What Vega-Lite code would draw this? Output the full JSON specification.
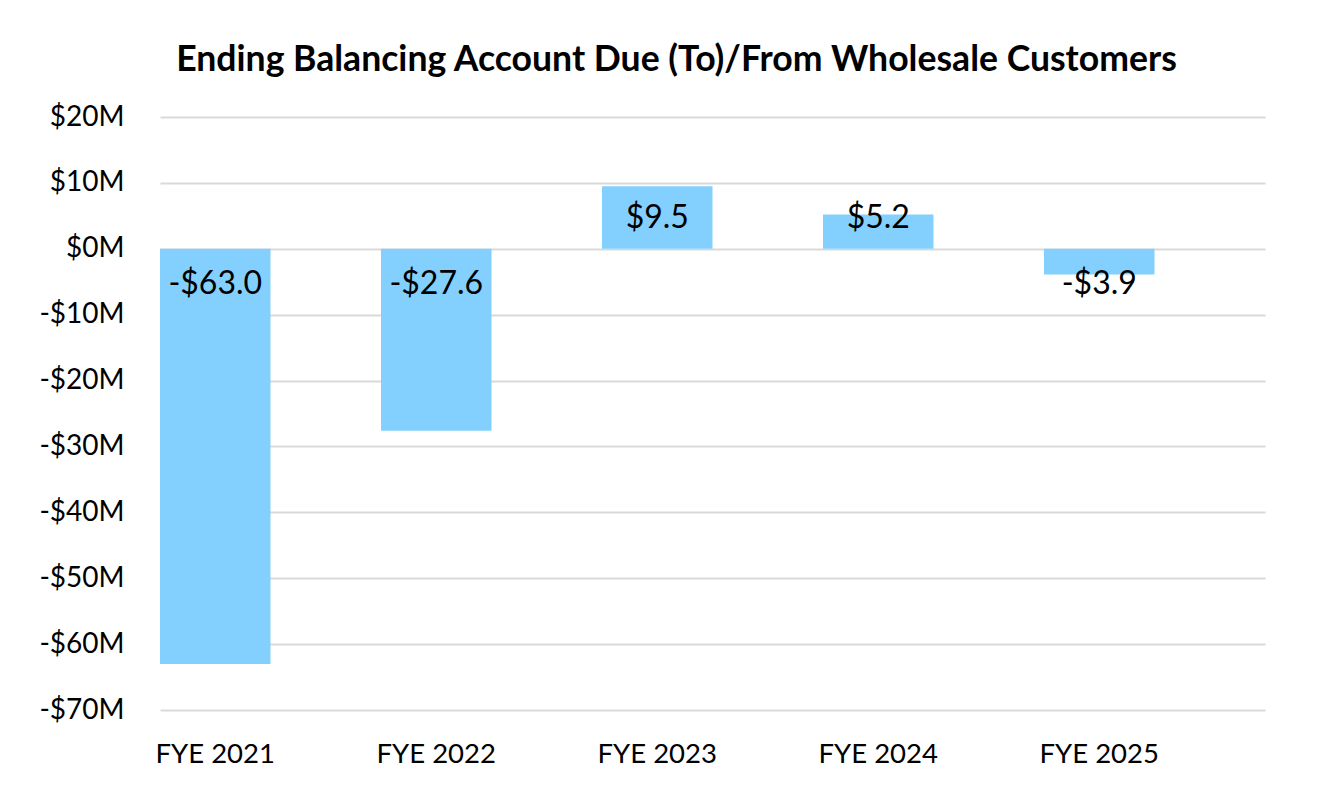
{
  "$schema": "https://vega.github.io/schema/vega-lite/v6.json",
  "width": 1105,
  "height": 593,
  "autosize": {"type": "none"},
  "padding": {"left": 160, "top": 117, "right": 64, "bottom": 85},
  "background": "white",
  "config": {
    "view": {"stroke": null},
    "font": "Lato"
  },
  "title": {
    "text": "Ending Balancing Account Due (To)/From Wholesale Customers",
    "font": "Lato",
    "fontSize": 35.6,
    "fontWeight": "bold",
    "color": "#000000",
    "anchor": "middle",
    "dx": -36,
    "offset": 24
  },
  "data": {
    "values": [
      {"year": "FYE 2021", "value": -63.0},
      {"year": "FYE 2022", "value": -27.6},
      {"year": "FYE 2023", "value": 9.5},
      {"year": "FYE 2024", "value": 5.2},
      {"year": "FYE 2025", "value": -3.9}
    ]
  },
  "transform": [
    {"calculate": "(datum.value < 0 ? '-$' : '$') + format(abs(datum.value), '.1f')", "as": "label"}
  ],
  "encoding": {
    "x": {
      "field": "year",
      "type": "nominal",
      "sort": null,
      "scale": {"paddingInner": 0.5, "paddingOuter": 0.25, "align": 0},
      "axis": {
        "title": null,
        "domain": false,
        "ticks": false,
        "labelAngle": 0,
        "labelFont": "Lato",
        "labelFontSize": 27.5,
        "labelColor": "#000000",
        "labelPadding": 30
      }
    }
  },
  "layer": [
    {
      "mark": {"type": "bar", "color": "#83D0FF"},
      "encoding": {
        "y": {
          "field": "value",
          "type": "quantitative",
          "scale": {"domain": [-70, 20], "nice": false, "zero": true},
          "axis": {
            "title": null,
            "values": [-70, -60, -50, -40, -30, -20, -10, 0, 10, 20],
            "labelExpr": "(datum.value < 0 ? '-$' + abs(datum.value) : '$' + datum.value) + 'M'",
            "domain": false,
            "ticks": false,
            "grid": true,
            "gridColor": "#D9D9D9",
            "gridWidth": 2,
            "labelFont": "Lato",
            "labelFontSize": 28,
            "labelColor": "#000000",
            "labelPadding": 36
          }
        }
      }
    },
    {
      "transform": [{"filter": "datum.value >= 0"}],
      "mark": {"type": "text", "font": "Lato", "fontSize": 32, "color": "#000000", "baseline": "middle", "align": "center", "dy": -31},
      "encoding": {
        "y": {"datum": 0, "type": "quantitative"},
        "text": {"field": "label"}
      }
    },
    {
      "transform": [{"filter": "datum.value < 0"}],
      "mark": {"type": "text", "font": "Lato", "fontSize": 32, "color": "#000000", "baseline": "middle", "align": "center", "dy": 35},
      "encoding": {
        "y": {"datum": 0, "type": "quantitative"},
        "text": {"field": "label"}
      }
    }
  ]
}
